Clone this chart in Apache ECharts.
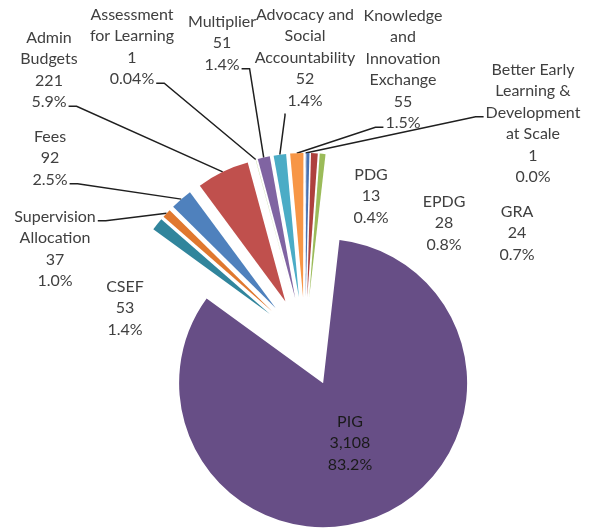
<!DOCTYPE html>
<html>
<head>
<meta charset="utf-8">
<script src="https://cdn.jsdelivr.net/npm/echarts@6/dist/echarts.min.js"></script>
<style>
  html, body { margin: 0; padding: 0; background: #fff; }
  #chart { width: 595px; height: 531px; }
</style>
</head>
<body>
<div id="chart"></div>
<script>
// slices in clockwise order, starting with the CSEF wedge
var categories = ['CSEF', 'Supervision Allocation', 'Fees', 'Admin Budgets', 'Assessment for Learning',
  'Multiplier', 'Advocacy and Social Accountability', 'Knowledge and Innovation Exchange',
  'Better Early Learning & Development at Scale', 'PDG', 'EPDG', 'GRA', 'PIG'];
var labelNames = ['CSEF', 'Supervision\nAllocation', 'Fees', 'Admin\nBudgets', 'Assessment\nfor Learning',
  'Multiplier', 'Advocacy and\nSocial\nAccountability', 'Knowledge\nand\nInnovation\nExchange',
  'Better Early\nLearning &\nDevelopment\nat Scale', 'PDG', 'EPDG', 'GRA', 'PIG'];
var values = [53, 37, 92, 221, 1, 51, 52, 55, 1, 13, 28, 24, 3108];
var shares = ['1.4%', '1.0%', '2.5%', '5.9%', '0.04%', '1.4%', '1.4%', '1.5%', '0.0%', '0.4%', '0.8%', '0.7%', '83.2%'];

var palette = ['#31859C', '#E0782F', '#4F81BD', '#C0504D', '#9BBB59', '#8064A2', '#4BACC6',
  '#F79646', '#4F81BD', '#4872B2', '#AE413E', '#9BBB59', '#674E86'];

var CX = 305, CY = 342, R = 144, START = 144, EXPLODE = 45;
var FONT = 16, LH = 21.5;
// label block: centre x, top of first line; leader starts beside line `at` on `side`
var spots = [
  { x: 125, y: 276 },
  { x: 55, y: 206, side: 'right', at: 0 },
  { x: 50, y: 126, side: 'right', at: 2 },
  { x: 49, y: 27, side: 'right', at: 3 },
  { x: 132, y: 4, side: 'right', at: 3 },
  { x: 222, y: 11, side: 'right', at: 2 },
  { x: 305, y: 4, side: 'bottom', at: 4 },
  { x: 403, y: 5, side: 'left', at: 5 },
  { x: 533, y: 59, side: 'left', at: 2 },
  { x: 371, y: 164 },
  { x: 444, y: 191 },
  { x: 517, y: 201 },
  { x: 350, y: 411 }
];

var ctx = document.createElement('canvas').getContext('2d');
ctx.font = FONT + 'px Lato';

function lineText(i, k) {
  var lines = (labelNames[i] + '\n' + values[i].toLocaleString('en-US') + '\n' + shares[i]).split('\n');
  return lines[k];
}

var total = values.reduce(function (a, b) { return a + b; }, 0);

// one pie per slice so every wedge can be pulled out along its own bisector
var series = [];
var cum = 0;
values.forEach(function (v, i) {
  var mid = (START - 360 * (cum + v / 2) / total) * Math.PI / 180;
  cum += v;
  var tip = [CX + Math.cos(mid) * (EXPLODE + R), CY - Math.sin(mid) * (EXPLODE + R)];
  var s = spots[i];
  var data = categories.map(function (name, j) {
    if (j !== i) {
      return { name: name, value: values[j], itemStyle: { color: 'rgba(0,0,0,0)' },
        label: { show: false }, labelLine: { show: false } };
    }
    var item = {
      name: name,
      value: values[j],
      itemStyle: { color: palette[j] },
      label: { show: true },
      labelLine: { show: !!s.side }
    };
    if (name === 'PIG') {
      item.label.position = 'inside';
      item.label.color = '#1a1a1a';
    }
    return item;
  });
  series.push({
    type: 'pie',
    silent: true,
    center: [CX + Math.cos(mid) * EXPLODE, CY - Math.sin(mid) * EXPLODE],
    radius: R,
    startAngle: START,
    clockwise: true,
    avoidLabelOverlap: false,
    emphasis: { disabled: true },
    label: {
      position: 'outside',
      color: '#404040',
      fontFamily: 'Lato',
      fontSize: FONT,
      lineHeight: LH,
      align: 'center',
      formatter: function (q) {
        return labelNames[q.dataIndex] + '\n' + q.value.toLocaleString('en-US') + '\n' + shares[q.dataIndex];
      }
    },
    labelLine: {
      length: 10,
      length2: 6,
      lineStyle: { color: '#1f1f1f', width: 1.5 }
    },
    labelLayout: function (q) {
      if (q.dataIndex !== i) return {};
      var out = { x: s.x, y: s.y, align: 'center', verticalAlign: 'top' };
      if (s.side) {
        var w = ctx.measureText(lineText(i, s.at)).width;
        var ly = s.y + (s.at + 0.5) * LH + 4;
        var a, b;
        if (s.side === 'right') {
          a = [s.x + w / 2 + 2, ly]; b = [a[0] + 8, ly];
        } else if (s.side === 'left') {
          a = [s.x - w / 2 - 2, ly]; b = [a[0] - 8, ly];
        } else {
          a = [s.x - 20, s.y + (s.at + 1) * LH + 2]; b = [a[0], a[1] + 2];
        }
        out.labelLinePoints = [a, b, tip];
      }
      return out;
    },
    data: data
  });
});

var chart = echarts.init(document.getElementById('chart'));
chart.setOption({ animation: false, series: series });
</script>
</body>
</html>
